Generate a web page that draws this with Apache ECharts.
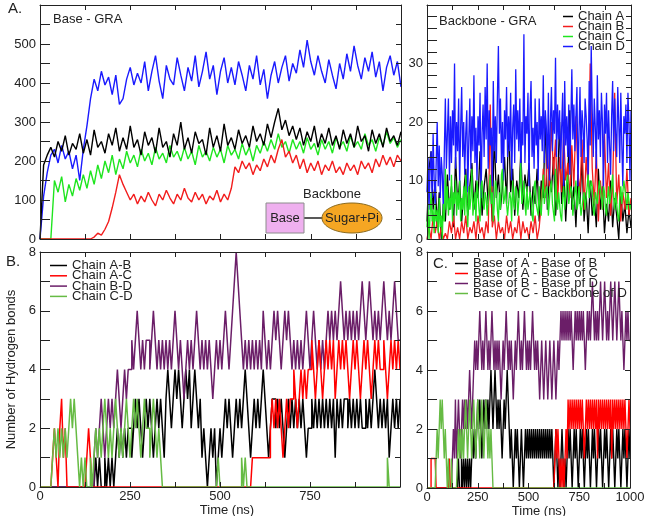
<!DOCTYPE html>
<html>
<head>
<meta charset="utf-8">
<script src="https://cdn.jsdelivr.net/npm/echarts@6/dist/echarts.min.js"></script>
<style>
  html, body { margin: 0; padding: 0; background: #fff; }
  #chart { width: 650px; height: 516px; }
</style>
</head>
<body>
<div id="chart"></div>
<script>
// ---- data ----
// Base - GRA, number of contacts, one value every 10 ns (0..1000)
var contactA = [0,190,215,235,210,250,225,265,215,245,
  230,270,220,255,215,280,235,250,220,270,
  240,285,225,260,230,290,235,255,215,275,
  240,260,220,285,235,250,210,270,240,300,
  230,260,220,275,245,255,215,285,235,265,
  225,295,240,260,230,280,245,265,235,290,
  250,270,240,295,260,300,335,280,305,265,
  290,255,285,240,275,250,290,235,270,245,
  285,240,265,230,280,245,270,235,290,250,
  265,225,280,245,270,235,285,250,265,240,
  275];
var contactB = [0,0,0,0,0,0,0,0,0,0,
  0,0,0,0,0,5,15,10,25,45,
  80,120,165,140,120,100,115,90,110,95,
  120,100,85,115,100,125,105,90,115,100,
  130,105,95,120,100,115,90,110,100,125,
  95,115,100,130,185,170,200,180,195,165,
  190,175,205,185,215,195,230,255,210,225,
  195,215,180,205,170,195,175,200,165,190,
  175,200,170,185,165,195,175,190,165,200,
  180,195,170,205,185,215,190,210,185,215,
  200];
var contactC = [0,0,0,0,150,120,160,95,140,110,
  155,125,165,130,175,140,190,155,200,170,
  215,165,205,180,225,195,215,185,230,200,
  220,190,235,205,220,195,240,210,225,200,
  235,205,225,190,240,210,225,200,235,210,
  230,195,240,215,230,205,245,215,235,200,
  240,220,250,225,255,230,270,235,250,220,
  255,230,250,220,260,230,245,215,255,230,
  250,220,260,235,250,225,265,235,250,230,
  270,240,255,225,260,240,275,245,260,235,
  255];
var contactD = [0,110,170,215,230,195,240,205,225,180,
  215,150,230,290,360,410,380,430,395,415,
  370,420,345,360,410,440,395,425,400,455,
  380,430,470,405,360,445,410,395,465,420,
  380,440,405,470,390,430,480,410,445,370,
  430,465,400,440,395,455,420,380,445,410,
  470,395,435,360,420,455,400,440,470,405,
  450,425,485,440,510,455,420,470,430,400,
  460,420,385,450,410,475,430,495,445,410,
  465,430,480,415,455,380,440,470,420,455,
  390];

// Backbone - GRA: chains A and B every 10 ns, chains C and D every 5 ns
var backA = [3,12,15,5,10,2,8,0,6,3,
  11,5,9,2,14,6,10,3,8,12,
  4,9,13,5,10,7,15,4,9,12,
  6,10,3,18,7,11,5,9,14,6,
  20,8,12,4,10,7,15,5,11,8,
  13,4,9,6,12,3,10,7,21,5,
  11,8,14,4,9,20,6,12,3,10,
  22,5,9,2,11,6,14,3,8,1,
  10,4,7,2,12,5,9,1,6,3,
  10,2,7,4,0,8,3,6,1,5,
  2];
var backB = [0,2,0,4,1,3,0,2,0,1,
  0,3,1,4,0,2,0,3,1,4,
  0,2,1,3,0,4,1,2,0,3,
  1,23,2,4,0,3,1,2,0,4,
  1,3,0,2,1,4,0,3,1,2,
  0,3,1,4,0,2,6,12,7,15,
  9,20,11,17,6,14,8,18,10,13,
  7,16,9,21,11,8,17,5,14,9,
  30,12,6,15,3,10,5,18,7,13,
  4,9,25,6,11,3,8,5,12,4,
  7];
var backC = [2,6,0,4,8,3,5,1,6,3,
  5,1,7,2,4,0,6,3,12,5,
  9,4,7,5,11,3,8,6,10,4,
  8,5,10,3,7,5,9,4,11,6,
  2,9,5,7,12,4,6,8,3,10,
  8,5,3,9,10,6,5,8,7,4,
  4,9,11,6,8,3,6,10,9,5,
  3,8,5,11,12,6,7,9,6,4,
  4,8,7,3,10,6,5,9,8,4,
  4,9,13,6,7,10,6,4,9,5,
  5,8,7,4,3,9,10,6,6,4,
  9,5,4,8,11,6,6,9,8,4,
  4,9,10,6,6,3,12,7,5,8,
  8,4,3,7,9,5,5,10,11,6,
  6,9,8,4,4,8,10,5,6,9,
  9,4,4,7,8,5,5,9,11,7,
  7,10,9,5,4,8,8,6,6,10,
  10,7,5,9,8,5,4,7,9,6,
  6,9,11,7,5,8,8,4,3,7,
  9,6,6,10,10,7,5,8,8,5,
  6];
var backD = [8,14,5,12,15,7,18,10,6,13,
  20,9,16,7,14,11,5,15,24,12,
  18,24,10,21,13,22,16,30,12,20,
  15,24,9,19,26,14,20,11,18,22,
  8,17,24,12,21,15,28,13,19,10,
  21,16,25,7,18,23,14,26,17,30,
  12,22,16,19,9,27,15,21,13,24,
  33,18,24,13,20,10,22,17,26,14,
  21,15,25,10,19,23,13,29,17,22,
  15,24,11,20,16,35,13,21,18,25,
  9,22,27,14,19,12,24,16,20,10,
  24,17,21,15,28,13,22,19,12,25,
  10,20,26,15,22,18,31,14,23,17,
  22,12,19,25,9,27,16,21,14,23,
  11,20,29,17,23,15,21,26,9,18,
  26,14,22,19,13,24,21,17,10,27,
  16,33,22,14,24,19,12,28,17,22,
  14,25,20,8,23,18,25,13,22,16,
  11,21,27,15,24,18,14,26,20,13,
  25,16,9,21,18,23,13,25,20,10,
  22];

// Hydrogen bonds between chains, every 5 ns (0..1000)
var hbAB = [0,0,0,0,0,0,0,0,0,0,
  0,0,0,0,0,0,0,0,0,0,
  0,0,0,0,0,0,0,0,0,0,
  0,1,0,1,0,0,1,0,1,0,
  1,0,1,2,1,2,1,2,1,2,
  2,1,2,3,2,3,2,1,2,3,
  2,3,2,1,2,3,2,3,2,1,
  3,4,3,2,3,4,3,4,3,2,
  3,4,3,4,2,3,4,3,2,3,
  1,2,1,0,1,2,1,2,0,1,
  2,1,2,3,2,3,2,1,2,3,
  2,3,2,3,4,3,2,1,2,3,
  2,3,2,3,4,3,2,1,2,3,
  3,2,3,2,3,2,1,2,3,2,
  3,2,3,2,3,2,3,2,1,2,
  2,3,2,3,2,3,2,3,2,3,
  2,3,2,3,1,3,2,3,2,3,
  3,2,3,2,3,2,3,2,3,2,
  2,3,2,3,2,3,4,3,2,3,
  2,3,2,3,1,2,3,2,3,2,
  3];
var hbAC = [0,0,0,0,0,0,0,1,2,1,
  0,2,3,1,2,0,0,0,0,0,
  0,0,0,0,0,0,1,2,1,0,
  0,0,0,0,0,0,0,0,0,0,
  0,0,0,0,0,0,0,0,0,0,
  0,0,0,0,0,0,0,0,0,0,
  0,0,0,0,0,0,0,0,0,0,
  0,0,0,0,0,0,0,0,0,0,
  0,0,0,0,0,0,0,0,0,0,
  0,0,0,0,0,0,0,0,0,0,
  0,0,0,0,0,0,0,0,0,0,
  0,0,0,0,0,0,0,0,1,1,
  1,1,1,1,1,1,1,1,2,3,
  2,3,2,3,2,1,2,3,2,3,
  3,4,3,2,3,4,3,4,3,4,
  4,5,4,3,4,5,4,3,4,5,
  4,5,4,5,3,4,5,4,5,4,
  5,4,3,4,5,4,5,4,3,4,
  5,4,5,4,3,4,5,4,5,4,
  4,5,4,3,4,5,4,5,4,5,
  4];
var hbBD = [0,0,0,0,0,0,0,0,0,0,
  0,0,0,0,0,0,0,0,0,0,
  0,0,0,0,0,0,0,0,0,0,
  1,2,1,2,3,2,1,2,3,2,
  3,2,3,4,3,2,3,4,3,4,
  4,5,4,5,6,5,4,5,4,5,
  5,4,5,6,5,4,5,4,5,4,
  5,4,5,4,5,6,5,4,5,4,
  3,4,5,4,5,4,5,6,5,4,
  5,4,5,4,5,4,3,4,5,4,
  5,4,5,6,5,4,5,6,7,8,
  7,6,5,4,5,4,5,4,5,4,
  5,4,5,4,6,5,4,5,4,5,
  6,5,6,5,4,5,6,5,6,5,
  4,5,4,5,4,5,4,5,6,5,
  4,5,6,5,4,5,4,5,4,5,
  6,5,6,5,6,5,6,7,6,5,
  6,5,6,5,6,5,6,5,6,7,
  6,5,6,7,6,5,6,5,6,5,
  6,7,6,5,6,5,6,7,6,5,
  5];
var hbCD = [0,0,0,0,0,0,0,1,2,1,
  2,1,2,1,2,1,2,3,2,3,
  2,1,0,1,0,1,0,0,1,0,
  1,2,1,2,1,2,3,2,1,2,
  1,2,3,2,1,2,1,2,3,2,
  1,2,3,2,3,2,1,2,3,2,
  2,1,2,3,2,1,2,1,0,0,
  0,0,0,0,0,0,0,0,0,0,
  0,0,0,0,0,0,0,0,0,0,
  0,0,0,0,0,0,0,0,0,1,
  0,0,0,0,0,0,0,0,0,0,
  0,0,1,0,1,0,0,0,0,0,
  0,0,0,0,0,0,0,0,0,0,
  0,0,0,0,0,0,0,0,0,0,
  0,0,0,0,0,0,0,0,0,0,
  0,0,0,0,0,0,0,0,0,0,
  0,0,0,0,0,0,0,0,0,0,
  0,0,0,0,0,0,0,0,0,0,
  0,0,0,0,0,0,0,0,0,0,
  0,0,0,1,0,0,0,0,0,0,
  0];

// Hydrogen bonds between bases, every 5 ns
var hcAB = [0,0,0,0,0,0,0,0,0,0,
  0,0,0,0,0,0,0,0,0,0,
  0,0,0,0,0,0,0,0,0,0,
  0,1,0,0,1,0,1,0,1,0,
  1,0,1,0,1,2,1,2,1,2,
  3,2,3,2,1,2,3,2,3,2,
  3,2,3,4,3,2,3,4,3,2,
  3,2,3,2,1,2,3,2,3,4,
  3,2,1,2,1,0,1,2,1,2,
  1,0,1,2,1,0,1,2,1,2,
  1,2,1,2,1,2,1,2,1,2,
  1,2,1,2,1,2,1,2,1,2,
  1,2,1,2,1,0,1,2,1,0,
  1,0,1,2,1,0,1,0,1,2,
  1,2,1,0,1,2,1,2,1,0,
  1,2,1,2,1,0,1,2,1,2,
  1,0,1,2,1,2,1,0,1,2,
  1,2,1,0,1,2,1,2,1,0,
  1,2,1,2,1,0,1,2,1,2,
  1,0,1,2,1,2,1,0,1,2,
  1];
var hcAC = [0,0,0,0,1,1,1,1,1,0,
  0,0,0,0,0,0,0,0,0,0,
  0,0,1,0,0,0,0,0,0,0,
  0,0,0,0,0,0,0,0,0,0,
  0,0,0,0,0,0,0,0,0,0,
  0,0,0,0,0,0,0,0,0,0,
  0,0,0,0,0,0,0,0,0,0,
  0,0,0,0,0,0,0,0,0,0,
  0,0,0,0,0,0,0,0,0,0,
  0,0,0,0,0,0,0,0,0,0,
  0,0,0,0,0,0,0,0,0,0,
  0,0,0,0,0,0,0,0,0,0,
  0,0,0,0,0,0,1,2,1,2,
  1,0,1,0,1,0,1,2,1,3,
  2,3,2,3,2,3,2,3,2,3,
  2,3,2,3,2,1,2,3,2,3,
  2,3,2,3,2,3,2,3,1,3,
  2,3,2,3,2,3,2,3,2,3,
  2,3,1,3,2,3,2,3,2,3,
  2,3,2,3,2,3,2,1,2,3,
  2];
var hcBD = [0,0,0,0,0,0,0,0,0,0,
  0,0,0,0,0,0,0,0,0,0,
  0,0,0,0,0,1,2,1,3,1,
  2,3,2,1,2,3,2,3,2,3,
  2,3,4,3,2,3,4,5,4,5,
  4,5,6,5,4,5,4,5,6,5,
  4,5,4,5,6,5,4,5,4,5,
  4,5,4,3,4,5,4,5,6,5,
  4,5,4,5,4,3,4,5,4,5,
  6,5,4,5,4,5,6,5,4,5,
  4,5,4,5,6,5,4,5,4,5,
  4,3,4,5,4,3,4,5,4,3,
  4,5,4,3,4,5,4,3,4,5,
  4,5,6,5,6,5,6,5,6,5,
  6,5,6,5,4,5,6,5,6,5,
  6,5,6,5,6,5,4,5,6,5,
  6,5,6,7,6,5,6,5,6,5,
  6,7,6,5,6,7,6,5,6,5,
  6,7,6,5,6,7,6,5,6,7,
  6,5,6,5,4,5,6,5,6,5,
  5];
var hcCD = [0,0,0,0,0,0,0,0,0,1,
  2,1,2,3,2,3,2,1,2,1,
  0,1,0,0,1,0,0,0,0,0,
  1,2,1,2,1,2,1,2,3,2,
  1,2,3,2,1,2,3,2,1,2,
  3,2,1,2,3,2,1,2,3,2,
  1,2,1,2,1,0,0,0,0,0,
  0,0,0,0,0,0,0,0,0,0,
  0,0,0,0,0,0,0,0,0,0,
  0,0,0,0,0,0,0,0,0,0,
  0,0,0,0,0,0,0,0,0,0,
  0,0,0,0,0,0,0,0,0,0,
  0,0,0,0,0,0,0,0,0,0,
  0,0,0,0,0,0,0,0,0,0,
  0,0,0,0,0,0,0,0,0,0,
  0,0,0,0,0,0,0,0,0,0,
  0,0,0,0,0,0,0,0,0,0,
  0,0,0,0,0,0,0,0,0,0,
  0,0,0,0,0,0,0,0,0,0,
  0,0,0,0,0,0,0,0,0,0,
  0];

// ---- chart ----
var FONT = "'Liberation Sans', Arial, Helvetica, sans-serif";
var INK = '#222';

function withTime(vals, step) {
    return vals.map(function (v, i) { return [i * step, v]; });
}

function xAxisOf(g, pos, labels, hideLast, name, namePad, nameGap) {
    return {
        gridIndex: g, type: 'value', position: pos, min: 0, max: 1000, interval: 250, z: 5,
        axisLine: {show: true, onZero: false, lineStyle: {color: INK, width: 1}},
        axisTick: {show: true, inside: true, length: 5, lineStyle: {color: INK}},
        minorTick: {show: true, splitNumber: 2, length: 5, lineStyle: {color: INK}},
        splitLine: {show: false},
        axisLabel: {
            show: labels, margin: 3, color: INK, fontSize: 13, fontFamily: FONT,
            formatter: function (v) { return (hideLast && v === 1000) ? '' : String(v); }
        },
        name: name || '', nameLocation: 'middle', nameGap: nameGap || 10,
        nameTextStyle: {color: INK, fontSize: 13, fontFamily: FONT, padding: [0, 0, 0, namePad || 0]}
    };
}

function yAxisOf(g, pos, max, step, minor, labels, showMax, name, nameGap) {
    return {
        gridIndex: g, type: 'value', position: pos, min: 0, max: max, interval: step, z: 5,
        axisLine: {show: true, onZero: false, lineStyle: {color: INK, width: 1}},
        axisTick: {show: true, inside: true, length: pos === 'left' ? 10 : 5, lineStyle: {color: INK}},
        minorTick: {show: true, splitNumber: minor, length: pos === 'left' ? 10 : 5, lineStyle: {color: INK}},
        splitLine: {show: false},
        axisLabel: {show: labels, showMaxLabel: showMax, margin: 4, color: INK, fontSize: 13, fontFamily: FONT},
        name: name || '', nameLocation: 'middle', nameGap: nameGap || 20,
        nameTextStyle: {color: INK, fontSize: 13, fontFamily: FONT}
    };
}

function line(name, data, step, xi, yi, color, width, stepped) {
    return {
        name: name, type: 'line', data: withTime(data, step),
        xAxisIndex: xi, yAxisIndex: yi,
        symbol: 'none', step: stepped ? 'end' : false,
        lineStyle: {color: color, width: width}, itemStyle: {color: color},
        animation: false, silent: true
    };
}

var cBlack = '#000000', cRed = '#f21d1d', cGreen = '#1fe51f', cBlue = '#1a1aff';
var hPurple = '#6b1e68', hGreen = '#66bb44', hRed = '#ff0000';

var chart = echarts.init(document.getElementById('chart'), null, {renderer: 'canvas'});

var legendText = {fontSize: 13, lineHeight: 10, color: INK, fontFamily: FONT};

var option = {
    backgroundColor: '#fff',
    animation: false,
    grid: [
        {left: 40, top: 5, width: 361, height: 234, outerBoundsMode: 'none'},
        {left: 427, top: 5, width: 204, height: 234, outerBoundsMode: 'none'},
        {left: 40, top: 252, width: 360, height: 235, outerBoundsMode: 'none'},
        {left: 427, top: 252, width: 203, height: 236, outerBoundsMode: 'none'}
    ],
    xAxis: [
        xAxisOf(0, 'bottom', false), xAxisOf(0, 'top', false),
        xAxisOf(1, 'bottom', false), xAxisOf(1, 'top', false),
        xAxisOf(2, 'bottom', true, true, 'Time (ns)', 14, 9), xAxisOf(2, 'top', false),
        xAxisOf(3, 'bottom', true, false, 'Time (ns)', 21, 11), xAxisOf(3, 'top', false)
    ],
    yAxis: [
        yAxisOf(0, 'left', 600, 100, 2, true, false, 'Number of Contacts', 26), yAxisOf(0, 'right', 600, 100, 2, false, false),
        yAxisOf(1, 'left', 40, 10, 5, true, false), yAxisOf(1, 'right', 40, 10, 5, false, false),
        yAxisOf(2, 'left', 8, 2, 2, true, true, 'Number of Hydrogen bonds', 11), yAxisOf(2, 'right', 8, 2, 2, false, false),
        yAxisOf(3, 'left', 8, 2, 2, true, true), yAxisOf(3, 'right', 8, 2, 2, false, false)
    ],
    title: [
        {text: 'Base - GRA', left: 53, top: 13, padding: 0, textStyle: {fontSize: 13, fontWeight: 'normal', color: INK, fontFamily: FONT}},
        {text: 'Backbone - GRA', left: 439, top: 15, padding: 0, textStyle: {fontSize: 13, fontWeight: 'normal', color: INK, fontFamily: FONT}}
    ],
    legend: [
        {
            data: ['Chain A', 'Chain B', 'Chain C', 'Chain D'],
            orient: 'vertical', left: 563, top: 10, padding: 0, itemGap: -3,
            icon: 'rect', itemWidth: 10, itemHeight: 1.5, selectedMode: false,
            textStyle: legendText
        },
        {
            data: ['Chain A-B', 'Chain A-C', 'Chain B-D', 'Chain C-D'],
            orient: 'vertical', left: 50, top: 259, padding: 0, itemGap: -2.7,
            icon: 'rect', itemWidth: 17, itemHeight: 1.5, selectedMode: false,
            textStyle: legendText
        },
        {
            data: ['Base of A - Base of B', 'Base of A - Base of C', 'Base of B - Base pf D', 'Base of C - Backbone of D'],
            orient: 'vertical', left: 455, top: 257, padding: 0, itemGap: -3,
            icon: 'rect', itemWidth: 13, itemHeight: 1.5, selectedMode: false,
            textStyle: legendText
        }
    ],
    series: [
        // A: Base - GRA
        line('Chain C', contactC, 10, 0, 0, cGreen, 1.4),
        line('Chain B', contactB, 10, 0, 0, cRed, 1.4),
        line('Chain D', contactD, 10, 0, 0, cBlue, 1.4),
        line('Chain A', contactA, 10, 0, 0, cBlack, 1.4),
        // Backbone - GRA
        line('Chain A', backA, 10, 2, 2, cBlack, 1.3),
        line('Chain B', backB, 10, 2, 2, cRed, 1.3),
        line('Chain D', backD, 5, 2, 2, cBlue, 1.3),
        line('Chain C', backC, 5, 2, 2, cGreen, 1.3),
        // B: hydrogen bonds between chains
        line('Chain A-B', hbAB, 5, 4, 4, cBlack, 1.5, true),
        line('Chain B-D', hbBD, 5, 4, 4, hPurple, 1.5, true),
        line('Chain A-C', hbAC, 5, 4, 4, hRed, 1.5, true),
        line('Chain C-D', hbCD, 5, 4, 4, hGreen, 1.5, true),
        // C: hydrogen bonds between bases
        line('Base of A - Base of B', hcAB, 5, 6, 6, cBlack, 1.4, true),
        line('Base of B - Base pf D', hcBD, 5, 6, 6, hPurple, 1.4, true),
        line('Base of A - Base of C', hcAC, 5, 6, 6, hRed, 1.4, true),
        line('Base of C - Backbone of D', hcCD, 5, 6, 6, hGreen, 1.4, true)
    ],
    graphic: [
        {type: 'text', left: 8, top: 1, style: {text: 'A.', fill: INK, font: '15px ' + FONT}},
        {type: 'text', left: 6, top: 254, style: {text: 'B.', fill: INK, font: '15px ' + FONT}},
        {type: 'text', left: 433, top: 256, style: {text: 'C.', fill: INK, font: '15px ' + FONT}},
        // Base / Backbone sketch
        {type: 'line', shape: {x1: 304, y1: 218, x2: 323, y2: 218}, style: {stroke: INK, lineWidth: 1.5}, z: 10},
        {type: 'rect', shape: {x: 266, y: 203, width: 38, height: 30}, style: {fill: '#efb0ef', stroke: '#8c8c8c', lineWidth: 1}, z: 10},
        {type: 'text', x: 285, y: 218, style: {text: 'Base', fill: INK, font: '13px ' + FONT, align: 'center', verticalAlign: 'middle', textAlign: 'center', textVerticalAlign: 'middle'}, z: 11},
        {type: 'ellipse', shape: {cx: 352, cy: 218, rx: 30, ry: 15}, style: {fill: '#f5a623', stroke: '#8a6a1f', lineWidth: 1}, z: 10},
        {type: 'text', x: 352, y: 218, style: {text: 'Sugar+Pi', fill: INK, font: '13px ' + FONT, align: 'center', verticalAlign: 'middle', textAlign: 'center', textVerticalAlign: 'middle'}, z: 11},
        {type: 'text', x: 332, y: 194, style: {text: 'Backbone', fill: INK, font: '13px ' + FONT, align: 'center', verticalAlign: 'middle', textAlign: 'center', textVerticalAlign: 'middle'}, z: 11}
    ]
};

chart.setOption(option);
</script>
</body>
</html>
